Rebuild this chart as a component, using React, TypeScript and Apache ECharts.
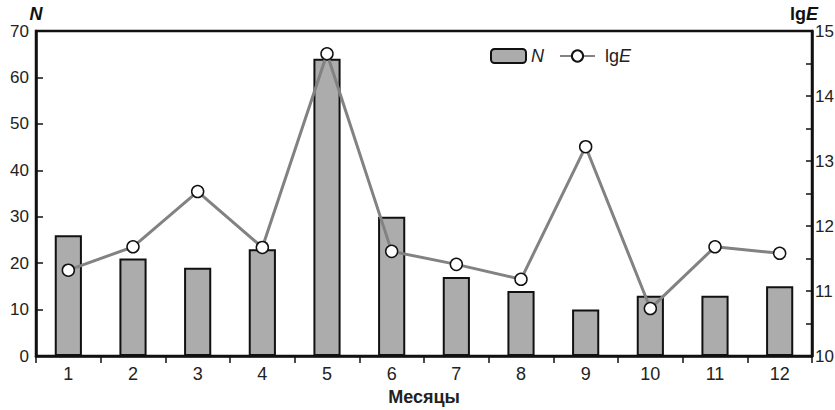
import React, { useEffect, useRef } from "react";
import * as echarts from "echarts";

const months = ["1", "2", "3", "4", "5", "6", "7", "8", "9", "10", "11", "12"];
const nValues = [26, 21, 19, 23, 64, 30, 17, 14, 10, 13, 13, 15];
const lgEValues = [11.32, 11.68, 12.53, 11.67, 14.65, 11.61, 11.41, 11.18, 13.22, 10.73, 11.68, 11.58];

const NARROW = "'Liberation Sans Narrow', 'Arial Narrow', 'Liberation Sans', Arial, sans-serif";
const SANS = "'Liberation Sans', Arial, sans-serif";

export default function App() {
  const ref = useRef<HTMLDivElement>(null);
  useEffect(() => {
    if (!ref.current) return;
    const chart = echarts.init(ref.current, undefined, { renderer: "svg" });
    chart.setOption({
      animation: false,
      backgroundColor: "#ffffff",
      grid: {
        left: 36,
        right: 23,
        top: 31,
        bottom: 54,
        show: true,
        borderColor: "#111",
        borderWidth: 2.5,
        containLabel: false,
        outerBoundsMode: "none",
      },
      legend: {
        left: 485,
        top: 42,
        itemWidth: 35,
        itemHeight: 14,
        itemGap: 15,
        textStyle: {
          fontFamily: SANS,
          fontSize: 18,
          color: "#222",
          rich: {
            i: { fontStyle: "italic", fontFamily: SANS, fontSize: 18, color: "#222" },
            n: { fontFamily: SANS, fontSize: 18, color: "#222", padding: [0, 0, 0, 5] },
          },
        },
        formatter: (name: string) => (name === "N" ? "{i|N}" : "{n|lg}{i|E}"),
        data: ["N", "lgE"],
      },
      xAxis: {
        type: "category",
        data: months,
        name: "Месяцы",
        nameLocation: "middle",
        nameGap: 31,
        nameTextStyle: { fontFamily: SANS, fontSize: 18, fontWeight: "bold", color: "#222" },
        axisLine: { lineStyle: { color: "#111", width: 2.5 } },
        axisTick: { show: true, inside: false, length: 7, lineStyle: { color: "#111", width: 1.5 } },
        axisLabel: { fontFamily: NARROW, fontSize: 18, color: "#222", margin: 9 },
      },
      yAxis: [
        {
          type: "value",
          min: 0,
          max: 70,
          interval: 10,
          name: "N",
          nameLocation: "end",
          nameGap: 7,
          nameTextStyle: { fontFamily: SANS, fontSize: 18, fontWeight: "bold", fontStyle: "italic", color: "#111", align: "center" },
          axisLine: { show: true, lineStyle: { color: "#111", width: 2.5 } },
          axisTick: { show: true, inside: true, length: 7, lineStyle: { color: "#111", width: 1.5 } },
          axisLabel: { fontFamily: NARROW, fontSize: 17, color: "#222", margin: 7 },
          splitLine: { show: false },
        },
        {
          type: "value",
          min: 10,
          max: 15,
          interval: 0.5,
          position: "right",
          name: "{b|lg}{bi|E}",
          nameLocation: "end",
          nameGap: 5,
          nameTextStyle: {
            align: "right",
            padding: [0, -6, 0, 0],
            rich: {
              b: { fontFamily: SANS, fontSize: 18, fontWeight: "bold", color: "#111" },
              bi: { fontFamily: SANS, fontSize: 18, fontWeight: "bold", fontStyle: "italic", color: "#111" },
            },
          },
          axisLine: { show: true, lineStyle: { color: "#111", width: 2.5 } },
          axisTick: { show: true, inside: true, length: 6, lineStyle: { color: "#111", width: 1.5 } },
          axisLabel: {
            fontFamily: NARROW,
            fontSize: 17,
            color: "#222",
            margin: 3,
            formatter: (v: number) => (Math.abs(v - Math.round(v)) < 1e-6 ? String(Math.round(v)) : ""),
          },
          splitLine: { show: false },
        },
      ],
      series: [
        {
          name: "N",
          type: "bar",
          yAxisIndex: 0,
          data: nValues,
          barWidth: "42%",
          itemStyle: { color: "#acacac", borderColor: "#111", borderWidth: 2 },
        },
        {
          name: "lgE",
          type: "line",
          yAxisIndex: 1,
          data: lgEValues,
          symbol: "circle",
          symbolSize: 12,
          lineStyle: { color: "#828282", width: 3 },
          itemStyle: { color: "#ffffff", borderColor: "#111", borderWidth: 1.5 },
          z: 5,
        },
      ],
    });
    return () => chart.dispose();
  }, []);
  return (
    <div
      ref={ref}
      style={{ position: "fixed", left: 0, top: 0, width: 835, height: 410 }}
    />
  );
}
